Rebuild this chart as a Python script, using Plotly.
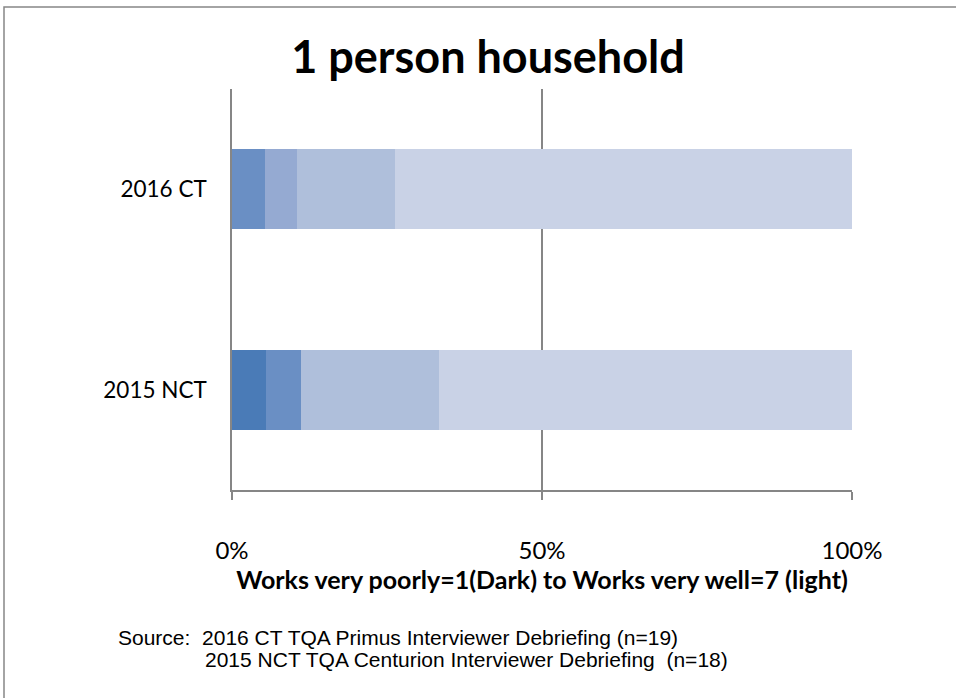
import plotly.graph_objects as go

categories = ["2015 NCT", "2016 CT"]
series_names = ["3", "4", "5", "6", "7"]
# percent of respondents per rating level (2015 NCT, 2016 CT)
level_3 = [5.56, 0.0]
level_4 = [5.56, 5.26]
level_5 = [0.0, 5.26]
level_6 = [22.22, 15.79]
level_7 = [66.67, 73.68]
series_values = [level_3, level_4, level_5, level_6, level_7]
colors = ["#4a7bb7", "#6a8fc4", "#95aad2", "#afbfdb", "#c9d2e6"]
tick_vals = [0, 50, 100]
tick_text = ["0%", "50%", "100%"]

W, H = 956, 698
L, R, T, B = 232, 956 - 852, 89, 698 - 490
pw, ph = W - L - R, H - T - B

def px(x):
    return (x - L) / pw

def py(y):
    return (H - B - y) / ph

fig = go.Figure()
for name, vals, c in zip(series_names, series_values, colors):
    fig.add_trace(go.Bar(
        y=categories, x=vals, name=name, orientation="h",
        marker=dict(color=c, line=dict(width=0)), showlegend=False,
        hoverinfo="skip",
    ))

font_main = "Lato, 'Open Sans', sans-serif"
font_src = "Liberation Sans, Arial, sans-serif"
fig.update_layout(
    width=W, height=H, barmode="stack", bargap=0.6,
    margin=dict(l=L, r=R, t=T, b=B),
    plot_bgcolor="white", paper_bgcolor="white",
    title=dict(text="<b>1 person household</b>", x=488 / W, xanchor="center",
               y=1 - 57 / H, yanchor="middle",
               font=dict(family=font_main, size=45, color="black")),
    xaxis=dict(range=[0, 100], tickvals=tick_vals, ticktext=tick_text,
               showgrid=True, gridcolor="#868686", gridwidth=1.5,
               showline=True, linecolor="#868686", linewidth=1.5,
               ticks="outside", ticklen=8, tickcolor="#868686", tickwidth=1.5,
               ticklabelstandoff=30, zeroline=False,
               tickfont=dict(family=font_main, size=24, color="black"),
               title=dict(text="<b>Works very poorly=1(Dark) to Works very well=7 (light)</b>",
                          font=dict(family=font_main, size=25, color="black"),
                          standoff=6)),
    yaxis=dict(showline=True, linecolor="#868686", linewidth=1.5,
               showgrid=False, ticks="", ticklabelstandoff=19,
               tickfont=dict(family=font_main, size=22.5, color="black")),
    shapes=[dict(type="rect", xref="paper", yref="paper",
                 x0=px(4), x1=px(975), y0=py(715), y1=py(7),
                 line=dict(color="#868686", width=1.5), layer="below")],
    annotations=[
        dict(xref="paper", yref="paper", x=px(116), y=py(637), xanchor="left", yanchor="middle",
             text="Source:  2016 CT TQA Primus Interviewer Debriefing (n=19)", showarrow=False,
             font=dict(family=font_src, size=21, color="black")),
        dict(xref="paper", yref="paper", x=px(203), y=py(659), xanchor="left", yanchor="middle",
             text="2015 NCT TQA Centurion Interviewer Debriefing  (n=18)", showarrow=False,
             font=dict(family=font_src, size=21, color="black")),
    ],
)

fig.write_html("out.html")
